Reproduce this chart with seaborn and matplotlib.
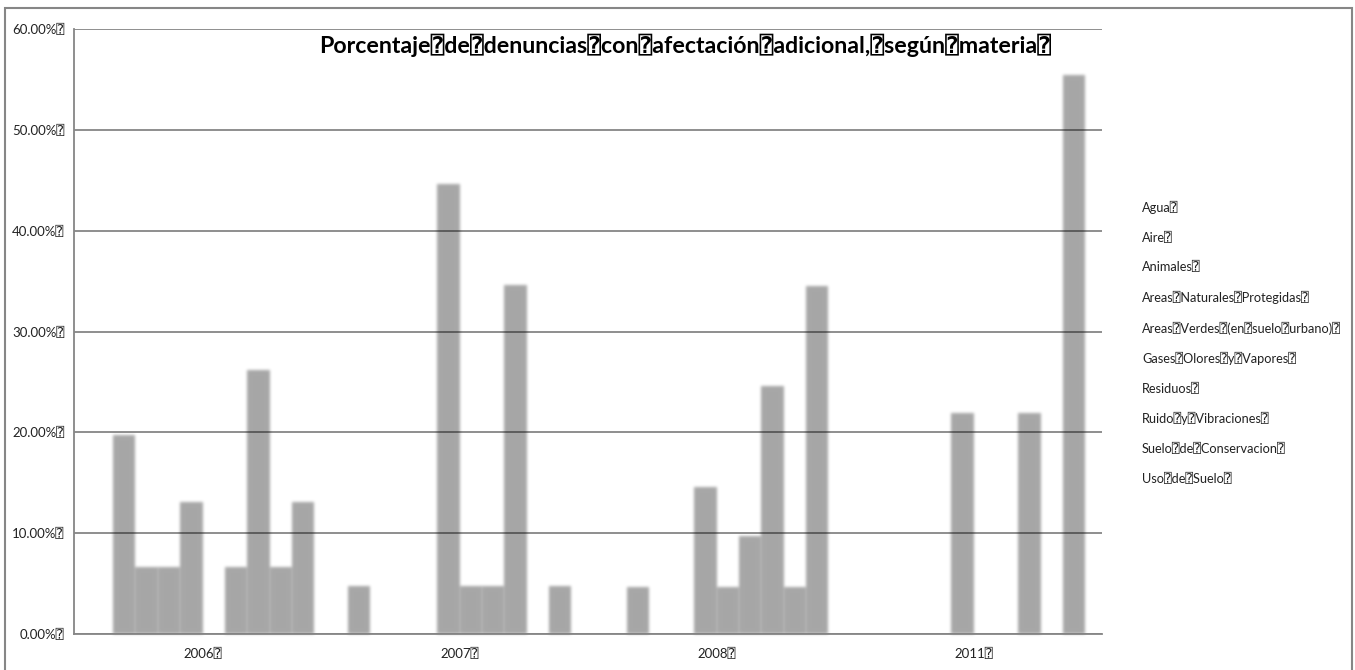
import numpy as np
import pandas as pd
import seaborn as sns
import matplotlib
matplotlib.use("Agg")
import matplotlib.pyplot as plt
from matplotlib.patches import Rectangle
from matplotlib.lines import Line2D
from matplotlib.ticker import FixedLocator, FuncFormatter

# Share of complaints with an additional impact, by subject and year (%)
years = ["2006", "2007", "2008", "2011"]
materias = [
    "Agua",
    "Aire",
    "Animales",
    "Areas Naturales Protegidas",
    "Areas Verdes (en suelo urbano)",
    "Gases Olores y Vapores",
    "Residuos",
    "Ruido y Vibraciones",
    "Suelo de Conservacion",
    "Uso de Suelo",
]
pct_2006 = [0.0, 19.7, 6.6, 6.6, 13.1, 0.0, 6.6, 26.2, 6.6, 13.1]
pct_2007 = [4.8, 0.0, 0.0, 0.0, 44.6, 4.8, 4.8, 34.6, 0.0, 4.8]
pct_2008 = [0.0, 4.7, 0.0, 0.0, 14.6, 4.7, 9.7, 24.6, 4.7, 34.5]
pct_2011 = [0.0, 0.0, 0.0, 0.0, 21.9, 0.0, 0.0, 21.9, 0.0, 55.4]
title = "Porcentaje de denuncias con afectación adicional, según materia"

BOX = "\u2370"


def tag(s):
    return s.replace(" ", BOX) + BOX


rows = []
for yr, vals in zip(years, [pct_2006, pct_2007, pct_2008, pct_2011]):
    for m, v in zip(materias, vals):
        rows.append({"year": yr, "materia": m, "pct": v})
df = pd.DataFrame(rows)


def soft_edges(im, dpi, sigma=1.5):
    # gaussian blur of the premultiplied RGBA image
    pad = int(np.ceil(3 * sigma)) + 1
    src = np.pad(im, [(pad, pad), (pad, pad), (0, 0)], "constant")
    pre = src.copy()
    pre[..., :3] *= pre[..., 3:4]
    r = np.arange(-pad, pad + 1)
    k = np.exp(-0.5 * (r / sigma) ** 2)
    k /= k.sum()
    out = np.zeros_like(pre)
    for off, w in zip(r, k):
        out += w * np.roll(pre, off, axis=0)
    pre = out
    out = np.zeros_like(pre)
    for off, w in zip(r, k):
        out += w * np.roll(pre, off, axis=1)
    a = out[..., 3:4]
    rgb = np.where(a > 1e-6, out[..., :3] / np.maximum(a, 1e-6), 0)
    res = np.concatenate([np.clip(rgb, 0, 1), np.clip(a, 0, 1)], axis=2)
    return res, -pad, -pad


sns.set_theme(style="white")
plt.rcParams["font.family"] = ["Lato", "DejaVu Sans", "DejaVu Sans Mono"]

W, H = 1355, 670
fig = plt.figure(figsize=(W / 100, H / 100), dpi=100)
ax = fig.add_axes([74 / W, 1 - 634 / H, (1102 - 74) / W, (634 - 29) / H])

grey = "#868686"
sns.barplot(
    data=df, x="year", y="pct", hue="materia", hue_order=materias,
    palette=["black"] * len(materias), alpha=0.35, saturation=1,
    width=10 / 11.5, gap=0, errorbar=None, linewidth=0, legend=False, ax=ax,
)
for p in ax.patches:
    p.set_agg_filter(soft_edges)

ax.set_ylim(0, 60)
ax.set_xlim(-0.5, len(years) - 0.5)
ax.set_yticks(np.arange(0, 61, 10))
ax.yaxis.set_major_formatter(FuncFormatter(lambda v, _: f"{v:.2f}%" + BOX))
ax.set_xticks(range(len(years)))
ax.set_xticklabels([tag(y) for y in years])
ax.xaxis.set_minor_locator(FixedLocator(np.arange(-0.5, len(years), 1.0)))
ax.tick_params(axis="x", which="major", length=0, pad=10, labelsize=9.5, labelcolor="#222222")
ax.tick_params(axis="x", which="minor", length=5, width=1, color=grey, direction="out")
ax.tick_params(axis="y", length=5, width=1.3, color=grey, direction="out", pad=2,
               labelsize=9.5, labelcolor="#222222")
ax.set_xlabel("")
ax.set_ylabel("")

ax.yaxis.grid(True, color=grey, linewidth=1.3)
ax.xaxis.grid(False)
ax.set_axisbelow(True)
for side in ["top", "right"]:
    ax.spines[side].set_visible(False)
for side in ["left", "bottom"]:
    ax.spines[side].set_color(grey)
    ax.spines[side].set_linewidth(1.3)

handles = [Line2D([], [], linewidth=0) for _ in materias]
ax.legend(
    handles, [tag(m) for m in materias], loc="upper left",
    bbox_to_anchor=(1142 / W, 1 - 201 / H), bbox_transform=fig.transFigure,
    frameon=False, handlelength=0, handletextpad=0, labelspacing=1.37,
    fontsize=9.2, borderaxespad=0, borderpad=0, labelcolor="#222222",
)

fig.text(685 / W, 1 - 45 / H, tag(title), ha="center", va="center",
         fontsize=16.7, fontweight="bold", color="black")

fig.add_artist(Rectangle((5 / W, -0.1), (1352 - 5) / W, 1.1 - 8 / H,
                         transform=fig.transFigure, fill=False,
                         edgecolor=grey, linewidth=1.5))

fig.savefig("out.png", dpi=100, facecolor="white")
